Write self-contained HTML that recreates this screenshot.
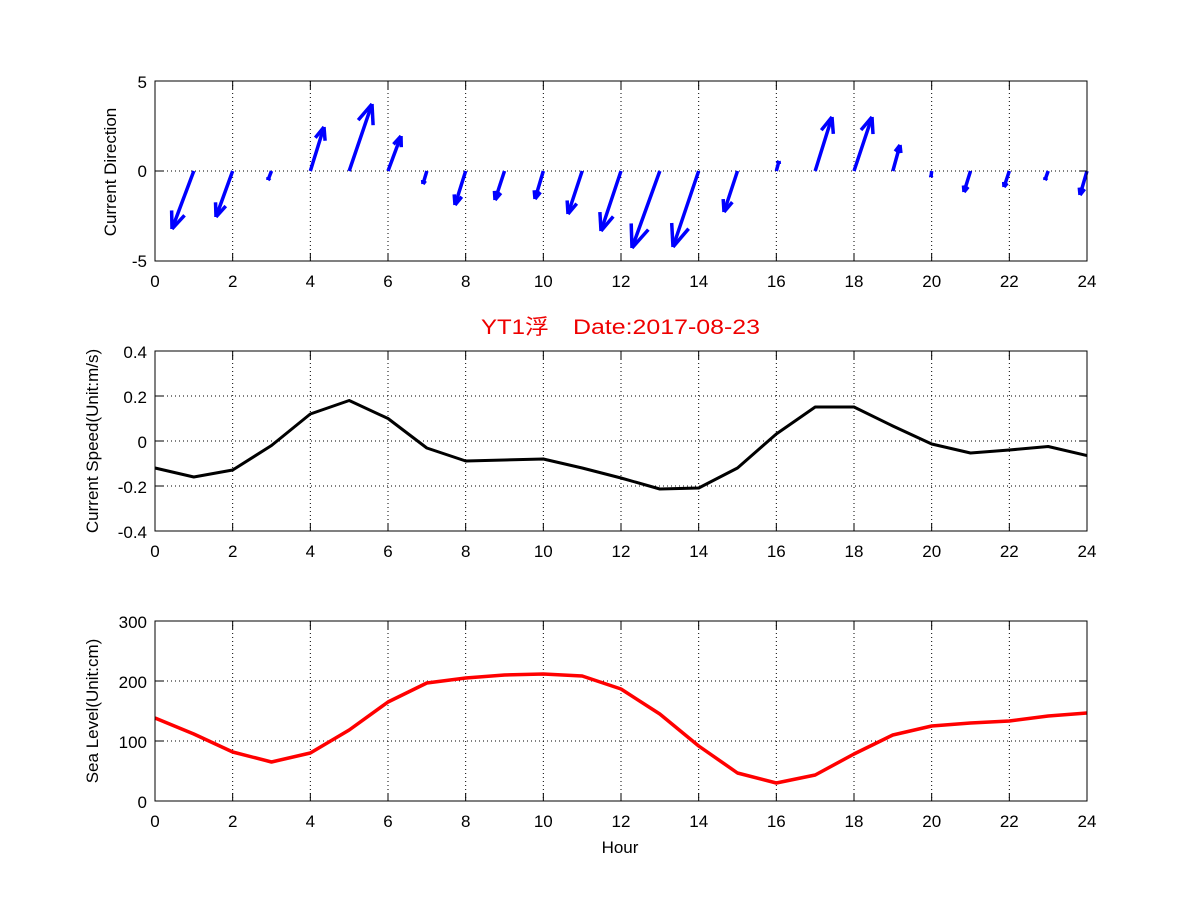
<!DOCTYPE html>
<html><head><meta charset="utf-8"><style>
html,body{margin:0;padding:0;background:#fff;}
svg{display:block;}
text{font-family:"Liberation Sans","Noto Sans CJK SC",sans-serif;font-size:17px;fill:#000;}
</style></head><body>
<svg id="s" width="1201" height="901" xmlns="http://www.w3.org/2000/svg">
<rect width="1201" height="901" fill="#fff"/>
<g id="grid"></g>
<polyline fill="none" stroke="#000" stroke-width="3" stroke-linejoin="round" points="155,468 193.8,477 232.7,470 271.5,445.5 310.3,414 349.2,400.5 388,418.5 426.8,448 465.7,461 504.5,460 543.3,459 582.2,468 621,478 659.8,489 698.7,488 737.5,468 776.3,434 815.2,407 854,407 892.8,426 931.7,444 970.5,453 1009.3,450 1048.2,446.5 1087,455.6"/>
<polyline fill="none" stroke="#f00" stroke-width="3.5" stroke-linejoin="round" points="155,718 193.8,734 232.7,752 271.5,762 310.3,753 349.2,730 388,702 426.8,683 465.7,678 504.5,675 543.3,674 582.2,676 621,689 659.8,714 698.7,746 737.5,773 776.3,783 815.2,775 854,754 892.8,735 931.7,726 970.5,723 1009.3,721 1048.2,716 1087,713"/>
<g id="arrows" stroke="#00f" stroke-width="3.5" stroke-linecap="butt" fill="none"></g>
<g id="frames" fill="none" stroke="#000" stroke-width="1"></g>
<text x="147" y="88" text-anchor="end">5</text>
<text x="147" y="177" text-anchor="end">0</text>
<text x="147" y="267" text-anchor="end">-5</text>
<g text-anchor="middle">
<text x="155" y="287">0</text><text x="232.7" y="287">2</text><text x="310.3" y="287">4</text><text x="388" y="287">6</text><text x="465.7" y="287">8</text><text x="543.3" y="287">10</text><text x="621" y="287">12</text><text x="698.7" y="287">14</text><text x="776.3" y="287">16</text><text x="854" y="287">18</text><text x="931.7" y="287">20</text><text x="1009.3" y="287">22</text><text x="1087" y="287">24</text>
</g>
<text transform="translate(116,172) rotate(-90)" text-anchor="middle">Current Direction</text>
<text x="481" y="334" textLength="68" lengthAdjust="spacingAndGlyphs" style="fill:#e00;font-size:21px">YT1浮</text>
<text x="573" y="334" textLength="187" lengthAdjust="spacingAndGlyphs" style="fill:#e00;font-size:21px">Date:2017-08-23</text>
<text x="147" y="358" text-anchor="end">0.4</text>
<text x="147" y="403" text-anchor="end">0.2</text>
<text x="147" y="448" text-anchor="end">0</text>
<text x="147" y="493" text-anchor="end">-0.2</text>
<text x="147" y="538" text-anchor="end">-0.4</text>
<g text-anchor="middle">
<text x="155" y="557">0</text><text x="232.7" y="557">2</text><text x="310.3" y="557">4</text><text x="388" y="557">6</text><text x="465.7" y="557">8</text><text x="543.3" y="557">10</text><text x="621" y="557">12</text><text x="698.7" y="557">14</text><text x="776.3" y="557">16</text><text x="854" y="557">18</text><text x="931.7" y="557">20</text><text x="1009.3" y="557">22</text><text x="1087" y="557">24</text>
</g>
<text transform="translate(98,441) rotate(-90)" text-anchor="middle">Current Speed(Unit:m/s)</text>
<text x="147" y="628" text-anchor="end">300</text>
<text x="147" y="688" text-anchor="end">200</text>
<text x="147" y="748" text-anchor="end">100</text>
<text x="147" y="808" text-anchor="end">0</text>
<g text-anchor="middle">
<text x="155" y="827">0</text><text x="232.7" y="827">2</text><text x="310.3" y="827">4</text><text x="388" y="827">6</text><text x="465.7" y="827">8</text><text x="543.3" y="827">10</text><text x="621" y="827">12</text><text x="698.7" y="827">14</text><text x="776.3" y="827">16</text><text x="854" y="827">18</text><text x="931.7" y="827">20</text><text x="1009.3" y="827">22</text><text x="1087" y="827">24</text>
</g>
<text transform="translate(98,711) rotate(-90)" text-anchor="middle">Sea Level(Unit:cm)</text>
<text x="620" y="853" text-anchor="middle">Hour</text>
</svg>
<script>
var NS="http://www.w3.org/2000/svg";
function ln(g,x1,y1,x2,y2,attrs){var e=document.createElementNS(NS,"line");e.setAttribute("x1",x1);e.setAttribute("y1",y1);e.setAttribute("x2",x2);e.setAttribute("y2",y2);for(var k in attrs)e.setAttribute(k,attrs[k]);g.appendChild(e);}
var grid=document.getElementById("grid"),fr=document.getElementById("frames");
var L=155,R=1087,dx=(R-L)/24;
var panels=[[81,261,[171]],[351,531,[351,396,441,486,531]],[621,801,[621,681,741,801]]];
var dot={stroke:"#000","stroke-width":1,"stroke-dasharray":"1,3"};
panels.forEach(function(p){
 var T=p[0],B=p[1];
 for(var h=2;h<24;h+=2){var x=L+h*dx;ln(grid,x,T,x,B,dot);}
 p[2].forEach(function(y){if(y>T&&y<B)ln(grid,L,y,R,y,dot);});
 var r=document.createElementNS(NS,"rect");r.setAttribute("x",L);r.setAttribute("y",T);r.setAttribute("width",R-L);r.setAttribute("height",B-T);fr.appendChild(r);
 for(var h=0;h<=24;h+=2){var x=L+h*dx;ln(fr,x,B,x,B-8,{});ln(fr,x,T,x,T+8,{});}
 var ys=p===panels[0]?[81,171,261]:p[2];
 ys.forEach(function(y){ln(fr,L,y,L+8,y,{});ln(fr,R,y,R-8,y,{});});
});
var tips=[[172,229],[216,217],[268,180],[324,127],[372,104],[401,136],[423,184],[455,205],[495,200],[535,199],[568,214],[601,231],[632,248],[673,247],[724,212],[779,161],[832,117],[872,117],[900,145],[931,177],[964,192],[1004,187],[1045,180],[1080,195]];
var ag=document.getElementById("arrows");
tips.forEach(function(t,i){
 var x0=L+(i+1)*dx,y0=171,x1=t[0],y1=t[1];
 var vx=x1-x0,vy=y1-y0,len=Math.sqrt(vx*vx+vy*vy);
 ln(ag,x0,y0,x1,y1,{});
 var hl=len*0.3,a=Math.atan2(vy,vx);
 [0.38,-0.38].forEach(function(d){ln(ag,x1,y1,x1-hl*Math.cos(a+d),y1-hl*Math.sin(a+d),{});});
});
</script>
</body></html>
